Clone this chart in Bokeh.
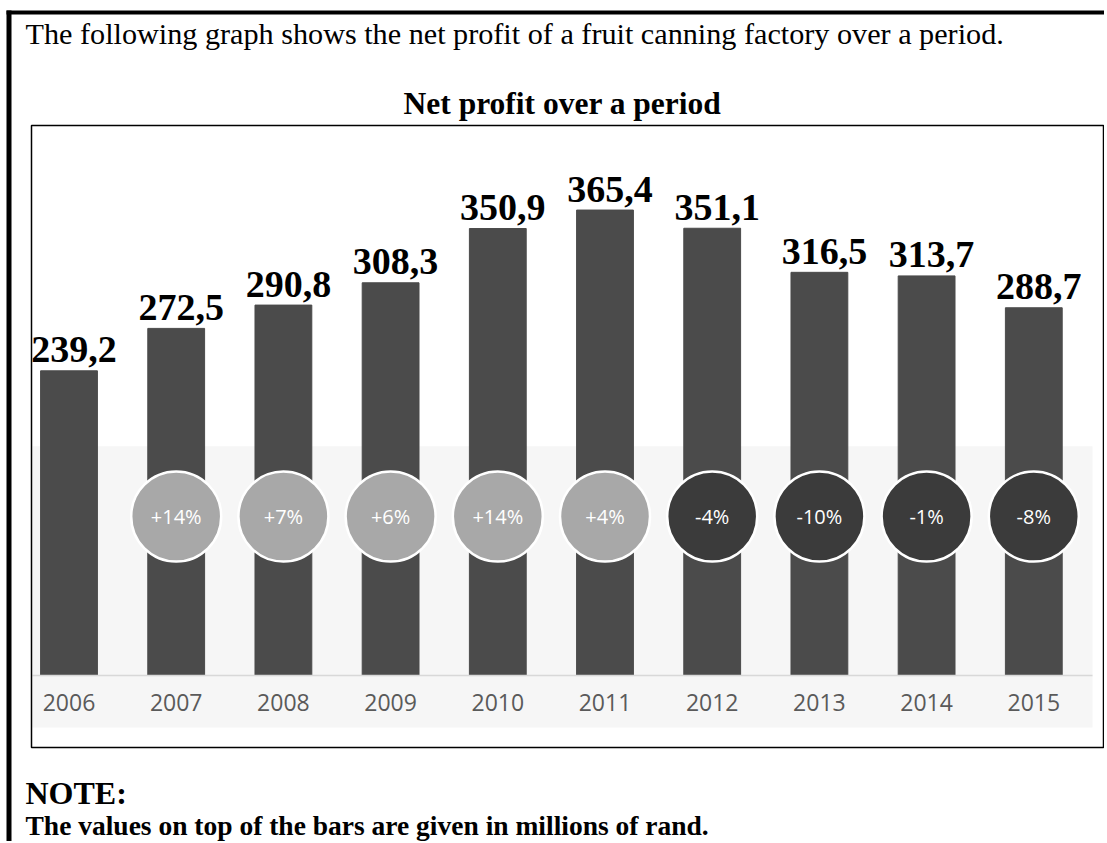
from bokeh.plotting import figure
from bokeh.models import ColumnDataSource, Range1d, FixedTicker, Label, BoxAnnotation
from bokeh.core.properties import value
from bokeh.embed import file_html
from bokeh.resources import INLINE

# ---- data ----
years = ["2006", "2007", "2008", "2009", "2010", "2011", "2012", "2013", "2014", "2015"]
profit = [239.2, 272.5, 290.8, 308.3, 350.9, 365.4, 351.1, 316.5, 313.7, 288.7]
profit_labels = ["239,2", "272,5", "290,8", "308,3", "350,9", "365,4", "351,1", "316,5", "313,7", "288,7"]
change_years = ["2007", "2008", "2009", "2010", "2011", "2012", "2013", "2014", "2015"]
change_labels = ["+14%", "+7%", "+6%", "+14%", "+4%", "-4%", "-10%", "-1%", "-8%"]

intro_text = "The following graph shows the net profit of a fruit canning factory over a period."
chart_title = "Net profit over a period"
note_head = "NOTE:"
note_text = "The values on top of the bars are given in millions of rand."

# ---- layout / style constants ----
W, H = 1104, 841
BAR_COLOR = "#4b4b4b"
POS_COLOR = "#a8a8a8"
NEG_COLOR = "#3b3b3b"
BAND = "#f6f6f6"
SERIF = "Liberation Serif"
SANS = "Open Sans"
CIRCLE_Y = 124.8

xpos = list(range(len(years)))
cx = [years.index(y) for y in change_years]
circle_fill = [POS_COLOR if s.startswith("+") else NEG_COLOR for s in change_labels]

src = ColumnDataSource(dict(x=xpos, top=profit, lab=profit_labels))
csrc = ColumnDataSource(dict(x=cx, y=[CIRCLE_Y] * len(cx), lab=change_labels, fill=circle_fill))

p = figure(width=W, height=H, output_backend="svg", toolbar_location=None,
           x_range=Range1d(-0.639, 9.6595), y_range=Range1d(-130.3, 529.9),
           y_axis_location=None, title=None,
           min_border_left=0, min_border_right=0, min_border_top=0, min_border_bottom=0)
p.background_fill_color = "white"
p.border_fill_color = "white"
p.outline_line_color = None
p.grid.visible = False
# page-pixel helper ranges (page coordinates, y downward)
p.extra_x_ranges = {"px": Range1d(0, W)}
p.extra_y_ranges = {"px": Range1d(H, 0)}

def pxbox(l, r, t, b, **kw):
    p.add_layout(BoxAnnotation(left=l, right=r, top=t, bottom=b,
                               x_range_name="px", y_range_name="px", **kw))

# background bands
p.add_layout(BoxAnnotation(left=32, right=1092, bottom=0, top=180, x_range_name="px",
                           fill_color=BAND, fill_alpha=1, line_color=None, level="underlay"))
pxbox(32, 1092, 675, 727, fill_color=BAND, fill_alpha=1, line_color=None, level="underlay")

p.vbar(x="x", top="top", bottom=0, width=0.53, source=src, fill_color=BAR_COLOR, line_color=BAR_COLOR)

p.text(x="x", y="top", text="lab", source=src, text_font=value(SERIF), text_font_style="bold",
       text_font_size="38px", text_align="center", text_baseline="middle",
       x_offset=5, y_offset=-21, text_color="black")

p.scatter(x="x", y="y", size=90, source=csrc, fill_color="fill", line_color="white", line_width=2.5)
p.text(x="x", y="y", text="lab", source=csrc, text_font=value(SANS), text_font_size="20px",
       text_align="center", text_baseline="middle", text_color="white", y_offset=0)

# x axis, drawn at y = 0 inside the plot
ax = p.xaxis[0]
ax.fixed_location = 0
ax.bounds = (-0.34, 9.548)
ax.ticker = FixedTicker(ticks=xpos)
ax.major_label_overrides = {i: y for i, y in zip(xpos, years)}
ax.axis_line_color = "#d8d8d8"
ax.axis_line_width = 1.5
ax.major_tick_line_color = None
ax.minor_tick_line_color = None
ax.major_label_text_font = SANS
ax.major_label_text_font_size = "23px"
ax.major_label_text_color = "#5a5a5a"
ax.major_label_standoff = 12

# page decorations
pxbox(6, W, 10, 14, fill_color="black", fill_alpha=1, line_color=None)
pxbox(6, 11, 10, H, fill_color="black", fill_alpha=1, line_color=None)
pxbox(31, 1103, 125, 747, fill_alpha=0, line_color="black", line_alpha=1, line_width=1.5)

def pxlabel(x, y, text, **kw):
    p.add_layout(Label(x=x, y=y, x_range_name="px", y_range_name="px", text=text,
                       text_baseline="middle", text_color="black", **kw))

pxlabel(25, 33, intro_text, text_font=SERIF, text_font_size="30.2px")
pxlabel(562, 103, chart_title, text_font=SERIF, text_font_size="31.5px", text_font_style="bold",
        text_align="center")
pxlabel(25, 792, note_head, text_font=SERIF, text_font_size="32px", text_font_style="bold")
pxlabel(25, 825, note_text, text_font=SERIF, text_font_size="27.5px", text_font_style="bold")

open("out.html", "w").write(file_html(p, INLINE))
